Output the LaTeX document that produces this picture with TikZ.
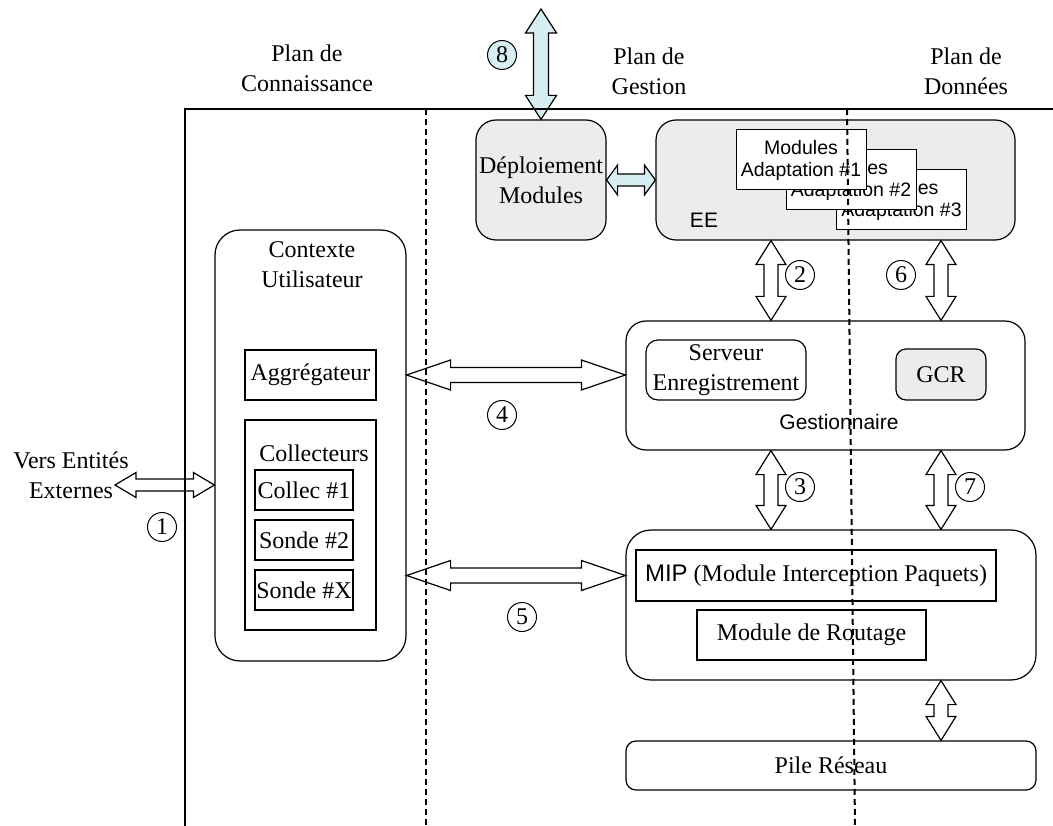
\documentclass[tikz,border=0pt]{standalone}
\usepackage{fontspec}
\setmainfont{Liberation Serif}
\setsansfont{Liberation Sans}
\usetikzlibrary{calc}
\definecolor{arrowcyan}{HTML}{D6EEF1}
\definecolor{boxgray}{HTML}{ECECEC}
\tikzset{
    every node/.style={inner sep=0pt, align=center, font=\fontsize{24}{30}\selectfont}
}
\tikzset{
    plainbox/.style={draw, line width=1.2pt},
    roundbox/.style={draw, line width=1.2pt, rounded corners=20pt},
    graybox/.style={roundbox, fill=boxgray},
    modbox/.style={draw, fill=white, line width=1pt, minimum width=130pt, minimum height=60pt,
        font=\sffamily\fontsize{19.5}{22}\selectfont},
    sanslbl/.style={font=\sffamily\fontsize{21}{25}\selectfont},
    numcirc/.style={circle, draw, line width=1pt, fill=white, minimum size=29pt,
        font=\fontsize{24}{26}\selectfont},
    plane/.style={line width=2pt, dash pattern=on 6pt off 4pt}
}
% fat double arrow: [fill]{from}{to}{head length}{head half width}{shaft half width}
\newcommand{\blockarrow}[6][white]{%
    \draw[fill=#1, line width=1.2pt]
        (#2) -- ($($(#2)!#4!(#3)$)!#5!90:(#3)$) -- ($($(#2)!#4!(#3)$)!#6!90:(#3)$)
        -- ($($(#3)!#4!(#2)$)!#6!-90:(#2)$) -- ($($(#3)!#4!(#2)$)!#5!-90:(#2)$)
        -- (#3) -- ($($(#3)!#4!(#2)$)!#5!90:(#2)$) -- ($($(#3)!#4!(#2)$)!#6!90:(#2)$)
        -- ($($(#2)!#4!(#3)$)!#6!-90:(#3)$) -- ($($(#2)!#4!(#3)$)!#5!-90:(#3)$) -- cycle;}

\begin{document}
\begin{tikzpicture}[x=1pt, y=-1pt]
    \useasboundingbox (0, 0) rectangle (1053, 826);

    \node (plan1) at (307, 68) {Plan de\\Connaissance};
    \node (plan2) at (649, 71) {Plan de\\Gestion};
    \node (plan3) at (966, 71) {Plan de\\Données};

    \node (deploy) [graybox, minimum width=130pt, minimum height=120pt] at (541, 180) {Déploiement\\Modules};
    \node (ee) [graybox, minimum width=359pt, minimum height=120pt] at (835.5, 180) {};
    \node (eelbl) [sanslbl] at (704, 220) {EE};
    \node (m3) [modbox] at (901.5, 200) {Modules\\Adaptation \#3};
    \node (m2) [modbox] at (851, 180) {Modules\\Adaptation \#2};
    \node (m1) [modbox] at (801, 160) {Modules\\Adaptation \#1};

    \node (ctx) [roundbox, rounded corners=25pt, minimum width=191pt, minimum height=431pt] at (310.5, 445.5) {};
    \node (ctxlbl) at (312, 265) {Contexte\\Utilisateur};
    \node (agg) [plainbox, minimum width=131pt, minimum height=50pt] at (310.5, 375) {Aggrégateur};
    \node (coll) [plainbox, minimum width=131pt, minimum height=210pt] at (310.5, 525) {};
    \node (colllbl) at (314, 453) {Collecteurs};
    \node (c1) [plainbox, minimum width=98pt, minimum height=40pt] at (304, 490) {Collec \#1};
    \node (s2) [plainbox, minimum width=98pt, minimum height=40pt] at (304, 540) {Sonde \#2};
    \node (sx) [plainbox, minimum width=98pt, minimum height=40pt] at (304, 590) {Sonde \#X};
    \node (extlbl) at (71, 475) {Vers Entités\\Externes};

    \node (gest) [roundbox, minimum width=399pt, minimum height=129pt] at (825.5, 385.5) {};
    \node (srv) [roundbox, rounded corners=12pt, minimum width=160pt, minimum height=60pt] at (726, 370) {Serveur\\Enregistrement};
    \node (gcr) [graybox, rounded corners=10pt, minimum width=90pt, minimum height=51pt] at (941, 374.5) {GCR};
    \node (gestlbl) [sanslbl] at (839, 422) {Gestionnaire};

    \node (low) [roundbox, rounded corners=25pt, minimum width=410pt, minimum height=150pt] at (831, 605) {};
    \node (mip) [plainbox, minimum width=360pt, minimum height=51pt] at (816, 575.5) {{\sffamily MIP} (Module Interception Paquets)};
    \node (rout) [plainbox, minimum width=229pt, minimum height=50pt] at (811.5, 635) {Module de Routage};
    \node (pile) [roundbox, rounded corners=10pt, minimum width=410pt, minimum height=49pt] at (831, 765.5) {Pile Réseau};

    \coordinate (top8) at (541, 9);
    \coordinate (ext) at (115, 485);
    \coordinate (c2) at (771, 0);
    \coordinate (c6) at (941, 0);

    \blockarrow[arrowcyan]{top8}{deploy.north}{24pt}{15.5pt}{7.5pt}
    \blockarrow[arrowcyan]{deploy.east}{ee.west}{11pt}{15pt}{6pt}
    \blockarrow{ext}{ctx.west |- ext}{21pt}{12.5pt}{6pt}
    \blockarrow{ctx.east |- agg.east}{gest.west |- agg.east}{44pt}{15pt}{7.5pt}
    \blockarrow{ctx.east |- mip.west}{low.west |- mip.west}{44pt}{15pt}{7.5pt}
    \blockarrow{c2 |- ee.south}{c2 |- gest.north}{24pt}{15pt}{7pt}
    \blockarrow{c2 |- gest.south}{c2 |- low.north}{24pt}{15pt}{7pt}
    \blockarrow{c6 |- ee.south}{c6 |- gest.north}{24pt}{15pt}{7pt}
    \blockarrow{c6 |- gest.south}{c6 |- low.north}{24pt}{15pt}{7pt}
    \blockarrow{c6 |- low.south}{c6 |- pile.north}{24pt}{15pt}{7pt}

    \node (n1) [numcirc] at (162, 527) {1};
    \node (n2) [numcirc] at (800, 275) {2};
    \node (n3) [numcirc] at (800, 487) {3};
    \node (n4) [numcirc] at (502, 415) {4};
    \node (n5) [numcirc] at (522, 617) {5};
    \node (n6) [numcirc] at (901, 275) {6};
    \node (n7) [numcirc] at (970, 487) {7};
    \node (n8) [numcirc, fill=arrowcyan] at (502, 55) {8};

    \draw[line width=2pt] (185, 826) -- (185, 109) -- (1053, 109);
    \draw[plane] (426, 109) -- (426, 826);
    \draw[plane] (847, 109) -- (855, 826);
\end{tikzpicture}
\end{document}
